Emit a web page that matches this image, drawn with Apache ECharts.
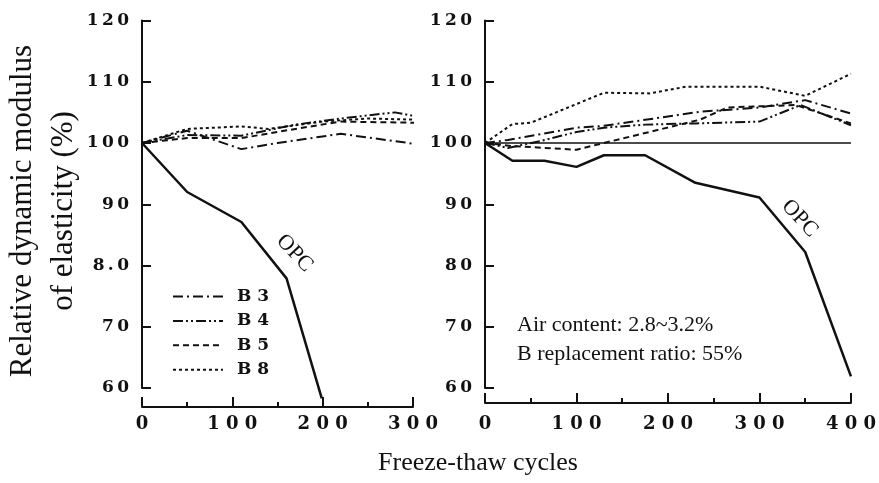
<!DOCTYPE html>
<html><head><meta charset="utf-8">
<script src="https://cdn.jsdelivr.net/npm/echarts@6/dist/echarts.min.js"></script>
<style>html,body{margin:0;padding:0;background:#fff}#c{width:879px;height:483px}</style>
</head><body><div id="c"></div>
<script>
// ---------- DATA ----------
const seriesNames = ['B3', 'B4', 'B5', 'B8'];

// Left panel
const leftOPC_x = [0, 50, 110, 160, 199];
const leftOPC_y = [100, 92, 87.1, 77.9, 58.3];
const leftB3_x = [0, 50, 110, 150, 220, 305];
const leftB3_y = [100, 102, 99, 100, 101.5, 99.8];
const leftB4_x = [0, 50, 110, 170, 220, 280, 305];
const leftB4_y = [100, 101.3, 101.2, 103, 104, 105, 104.3];
const leftB5_x = [0, 50, 110, 170, 220, 305];
const leftB5_y = [100, 100.8, 100.8, 102.3, 103.5, 103.3];
const leftB8_x = [0, 50, 110, 140, 200, 250, 305];
const leftB8_y = [100, 102.3, 102.7, 102.3, 103.5, 104, 103.8];

// Right panel
const rightOPC_x = [0, 30, 65, 100, 130, 175, 230, 300, 350, 400];
const rightOPC_y = [100, 97.1, 97.1, 96.1, 98, 98, 93.5, 91.1, 82.2, 61.9];
const rightB3_x = [0, 25, 100, 130, 235, 300, 350, 400];
const rightB3_y = [100, 100.5, 102.5, 102.8, 105.1, 105.8, 107, 104.8];
const rightB4_x = [0, 25, 60, 100, 130, 175, 230, 300, 345, 400];
const rightB4_y = [100, 99.2, 100.3, 101.8, 102.5, 103, 103.2, 103.5, 106.2, 102.9];
const rightB5_x = [0, 30, 100, 130, 235, 265, 340, 400];
const rightB5_y = [100, 99.5, 98.9, 100, 103.8, 105.8, 106.2, 103.2];
const rightB8_x = [0, 30, 50, 130, 180, 220, 300, 350, 400];
const rightB8_y = [100, 103.1, 103.3, 108.2, 108.1, 109.2, 109.2, 107.7, 111.3];

// Tick labels
const leftYTickLabels = ['60', '70', '8.0', '90', '100', '110', '120'];
const rightYTickLabels = ['60', '70', '80', '90', '100', '110', '120'];
const leftXTickLabels = ['0', '100', '200', '300'];
const rightXTickLabels = ['0', '100', '200', '300', '400'];

// Reference level and annotations
const refLevel = 100;
const leftRefEnd = 306;
const rightRefEnd = 400;
const leftOPCLabelAt = [169, 82];
const rightOPCLabelAt = [344, 87.7];
const noteAt = [35, 67.9];
const noteText = 'Air content: 2.8~3.2%\nB replacement ratio: 55%';
const yTitle = 'Relative dynamic modulus\nof elasticity (%)';
const xTitle = 'Freeze-thaw cycles';

// ---------- STYLE ----------
const INK = '#111';
const FT = '"Liberation Serif","Times New Roman",serif';
const FB = '"DejaVu Serif",serif';
const dashes = { B3: [10, 4, 2, 4], B4: [10, 3, 2, 3, 2, 3], B5: [6, 4], B8: [3, 3] };

const zip = (xs, ys) => xs.map((x, i) => [x, ys[i]]);
const spaced = (s, sep) => s.split('').join(sep);

function xAx(idx, max, labels, offset, margin) {
  return {
    type: 'value', gridIndex: idx, min: 0, max: max, interval: 100, offset: offset,
    axisLine: { show: true, onZero: false, lineStyle: { color: INK, width: 2 } },
    axisTick: { show: true, inside: true, length: 10, lineStyle: { color: INK, width: 2 } },
    minorTick: { show: true, splitNumber: 2, length: 5, lineStyle: { color: INK, width: 2 } },
    splitLine: { show: false },
    axisLabel: {
      margin: margin, color: INK, fontFamily: FB, fontWeight: 'bold', fontSize: 18,
      formatter: v => spaced(labels[Math.round(v / 100)] || '', ' ')
    }
  };
}
function yAx(idx, labels) {
  return {
    type: 'value', gridIndex: idx, min: 60, max: 120, interval: 10,
    axisLine: { show: true, onZero: false, lineStyle: { color: INK, width: 2 } },
    axisTick: { show: true, inside: true, length: 9, lineStyle: { color: INK, width: 2 } },
    splitLine: { show: false },
    axisLabel: {
      margin: 13, color: INK, fontFamily: FB, fontWeight: 'bold', fontSize: 17,
      formatter: v => spaced(labels[Math.round((v - 60) / 10)] || '', '\u2009')
    }
  };
}
function line(name, idx, xs, ys, dash, width) {
  return {
    name: name, type: 'line', xAxisIndex: idx, yAxisIndex: idx,
    data: zip(xs, ys), symbol: 'none', clip: false, silent: true,
    lineStyle: { color: INK, width: width || 2, type: dash || 'solid' },
    itemStyle: { color: INK }
  };
}
function opcLabel(at) {
  return {
    symbol: 'circle', symbolSize: 0, silent: true,
    data: [{ coord: at, label: { show: true, formatter: 'OPC', position: 'inside', rotate: -47,
      fontFamily: FT, fontSize: 22, color: INK } }]
  };
}
function refLine(endX) {
  return {
    silent: true, symbol: 'none', label: { show: false },
    lineStyle: { color: INK, width: 1.5, type: 'solid' },
    data: [[{ coord: [0, refLevel] }, { coord: [endX, refLevel] }]]
  };
}

const leftOPC = line('OPC', 0, leftOPC_x, leftOPC_y, 'solid', 2.5);
leftOPC.markLine = refLine(leftRefEnd);
leftOPC.markPoint = opcLabel(leftOPCLabelAt);

const rightOPC = line('OPC', 1, rightOPC_x, rightOPC_y, 'solid', 2.5);
rightOPC.markLine = refLine(rightRefEnd);
const rp = opcLabel(rightOPCLabelAt);
rp.data.push({ coord: noteAt, label: { show: true, formatter: noteText, position: 'right', distance: 0,
  fontFamily: FT, fontSize: 22, lineHeight: 29, color: INK } });
rightOPC.markPoint = rp;

const option = {
  backgroundColor: '#fff',
  animation: false,
  grid: [
    { left: 142, top: 20.5, width: 271, height: 367.5 },
    { left: 485, top: 20.5, width: 366, height: 367.5 }
  ],
  xAxis: [xAx(0, 300, leftXTickLabels, 19, 8), xAx(1, 400, rightXTickLabels, 15, 12)],
  yAxis: [yAx(0, leftYTickLabels), yAx(1, rightYTickLabels)],
  legend: {
    data: seriesNames, orient: 'vertical', left: 172, top: 288, padding: 0,
    itemWidth: 50, itemHeight: 14, itemGap: 7.4, selectedMode: false,
    itemStyle: { color: 'rgba(0,0,0,0)', borderWidth: 0, opacity: 0 },
    textStyle: { fontFamily: FB, fontWeight: 'bold', fontSize: 17, color: INK, padding: [0, 0, 0, 9] },
    formatter: n => n.replace('B', 'B ')
  },
  graphic: [
    { type: 'text', x: 43, y: 211, rotation: Math.PI / 2,
      style: { text: yTitle, fontFamily: FT, fontSize: 31, lineHeight: 41, align: 'center', verticalAlign: 'middle', fill: INK } },
    { type: 'text', x: 478, y: 463,
      style: { text: xTitle, fontFamily: FT, fontSize: 26, align: 'center', verticalAlign: 'middle', fill: INK } }
  ],
  series: [
    leftOPC,
    line('B3', 0, leftB3_x, leftB3_y, dashes.B3),
    line('B4', 0, leftB4_x, leftB4_y, dashes.B4),
    line('B5', 0, leftB5_x, leftB5_y, dashes.B5),
    line('B8', 0, leftB8_x, leftB8_y, dashes.B8),
    rightOPC,
    line('B3', 1, rightB3_x, rightB3_y, dashes.B3),
    line('B4', 1, rightB4_x, rightB4_y, dashes.B4),
    line('B5', 1, rightB5_x, rightB5_y, dashes.B5),
    line('B8', 1, rightB8_x, rightB8_y, dashes.B8)
  ]
};
const chart = echarts.init(document.getElementById('c'), null, { renderer: 'canvas' });
chart.setOption(option);
</script></body></html>
